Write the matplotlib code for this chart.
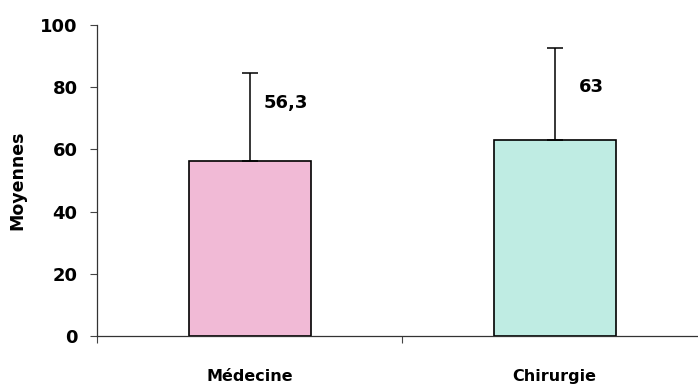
import matplotlib
matplotlib.use("Agg")
import matplotlib.pyplot as plt
import numpy as np

# data
categories = ["Médecine", "Chirurgie"]
means = [56.3, 63]
sd_upper = [28.3, 29.6]
value_labels = ["56,3", "63"]
colors = ["#f1bad6", "#bfece3"]

plt.rcParams['font.family'] = ['DejaVu Sans']

fig = plt.figure(figsize=(6.98, 3.89), dpi=100)
ax = fig.add_axes([97 / 698, 53 / 389, 610 / 698, 311 / 389])

x = np.arange(len(categories))
ax.bar(x, means, width=0.4, color=colors, edgecolor="black", linewidth=1.2, zorder=2)
ax.errorbar(x, means, yerr=[np.zeros(len(means)), sd_upper], fmt="none",
            ecolor="black", elinewidth=1.1, capsize=6, capthick=1.1, zorder=3)

# label offsets (points) as placed in the reference
label_dy = [18.7, 17.0]
for xi, m, lab, dy in zip(x, means, value_labels, label_dy):
    ax.text(xi + 0.12, m + dy, lab, ha="center", va="center",
            fontsize=13, fontweight="bold")

ax.set_xlim(-0.5, 1.5)
ax.set_ylim(0, 100)
ax.set_yticks([0, 20, 40, 60, 80, 100])
ax.tick_params(axis="y", direction="out", length=5, width=0.8, color="#444444",
               labelsize=13, pad=9)
for t in ax.get_yticklabels():
    t.set_fontweight("bold")

# ticks between categories, labels at the categories
ax.set_xticks([-0.5, 0.5, 1.5])
ax.set_xticklabels([])
ax.tick_params(axis="x", direction="out", length=5, width=0.8, color="#444444")
ax.set_xticks(x, minor=True)
ax.set_xticklabels(categories, minor=True, fontsize=11.5, fontweight="bold")
ax.tick_params(axis="x", which="minor", length=0, pad=24)

ax.set_ylabel("Moyennes", fontsize=12.5, fontweight="bold", labelpad=10)

for s in ["top", "right"]:
    ax.spines[s].set_visible(False)
for s in ["left", "bottom"]:
    ax.spines[s].set_linewidth(0.9)
    ax.spines[s].set_color("#333333")

fig.savefig("out.png", dpi=100)
